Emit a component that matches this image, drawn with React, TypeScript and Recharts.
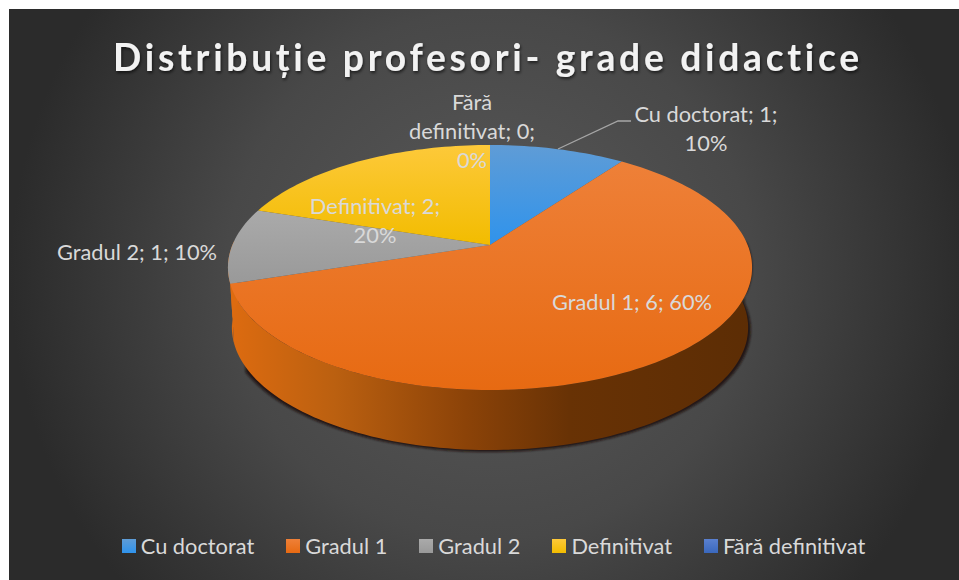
import React from "react";
import { PieChart, Pie, Legend } from "recharts";

const categories = ["Cu doctorat", "Gradul 1", "Gradul 2", "Definitivat", "Fără definitivat"];
const values = [1, 6, 1, 2, 0];
const topGradients = ["topBlue", "topOrange", "topGray", "topYellow", "topNavy"];
const sideGradients = ["sideBlue", "sideOrange", "sideGray", "sideYellow", "sideNavy"];
const labelLines = [
  ["Cu doctorat; 1;", "10%"],
  ["Gradul 1; 6; 60%"],
  ["Gradul 2; 1; 10%"],
  ["Definitivat; 2;", "20%"],
  ["Fără", "definitivat; 0;", "0%"],
];
const chartTitle = "Distribuție profesori- grade didactice";

const rows = categories.map((name, i) => ({ name, value: values[i], top: `url(#${topGradients[i]})`, side: `url(#${sideGradients[i]})` }));
const topRows = rows.map((r) => ({ ...r, fill: r.top }));
const sideRows = rows.map((r) => ({ ...r, fill: r.side }));

const FONT = "Lato, 'Open Sans', sans-serif";
const CX = 490;
const CY = 245;
const R = 100;
// Perspective of the tilted disc
const PERSP = 0.1837;
const SX = 2.576;
const SY = 1.184;
const DEPTH = 60;
const BOTTOM_SCALE = 0.985;

const project = (theta: number) => {
  const t = (theta * Math.PI) / 180;
  const u = Math.sin(t);
  const v = Math.cos(t);
  const d = 1 + PERSP * v;
  return { x: CX + (R * SX * u) / d, y: CY - (R * SY * v) / d };
};

const arcPts = (a: number, b: number) => {
  const n = Math.max(2, Math.ceil(Math.abs(b - a) / 1.5));
  const pts = [];
  for (let i = 0; i <= n; i++) pts.push(project(a + ((b - a) * i) / n));
  return pts;
};

const toPath = (pts: { x: number; y: number }[]) =>
  pts.map((p, i) => `${i ? "L" : "M"}${p.x.toFixed(2)} ${p.y.toFixed(2)}`).join(" ");

const TopSlice = (props: any) => {
  const { startAngle, endAngle, fill } = props;
  const a = 90 - startAngle;
  const b = 90 - endAngle;
  if (Math.abs(b - a) < 0.01) return <g />;
  const d = `M${CX} ${CY} ` + toPath(arcPts(a, b)).replace(/^M/, "L") + " Z";
  return <path d={d} fill={fill} stroke="none" />;
};

const SideSlice = (props: any) => {
  const { startAngle, endAngle, fill } = props;
  const a = Math.max(90 - startAngle, 88);
  const b = Math.min(90 - endAngle, 272);
  if (b <= a) return <g />;
  const upper = arcPts(a, b);
  const lower = upper
    .map((p) => ({ x: CX + (p.x - CX) * BOTTOM_SCALE, y: p.y + DEPTH }))
    .reverse();
  const shadowUpper = arcPts(a, Math.min(b, 240));
  const shadowLower = shadowUpper
    .map((p) => ({ x: CX + (p.x - CX) * 0.995, y: p.y + DEPTH + 2 }))
    .reverse();
  return (
    <g>
      {b > a && a < 240 && (
        <path d={toPath([...shadowUpper, ...shadowLower]) + " Z"} fill="#1d0f0a" opacity={0.85} filter="url(#soft)" />
      )}
      <path d={toPath([...upper, ...lower]) + " Z"} fill={fill} stroke="none" />
    </g>
  );
};

const LABEL_AT: Record<string, [number, number]> = {
  "Cu doctorat": [706, 122],
  "Gradul 1": [632, 310],
  "Gradul 2": [137, 260],
  Definitivat: [375, 214],
  "Fără definitivat": [472, 110],
};

const SliceLabel = (props: any) => {
  const { index, name } = props;
  const at = LABEL_AT[name];
  const lines = labelLines[index];
  return (
    <g>
      {name === "Cu doctorat" && (
        <polyline points="558,149 618,121 631,121" fill="none" stroke="#a6a6a6" strokeWidth={1.3} />
      )}
      <text x={at[0]} y={at[1]} textAnchor="middle" fontFamily={FONT} fontSize={21.8} fill="#d9d9d9">
        {lines.map((l: string, i: number) => (
          <tspan key={l} x={at[0]} dy={i ? 29 : 0}>
            {l}
          </tspan>
        ))}
      </text>
    </g>
  );
};

const LegendBody = ({ payload }: any) => (
  <div style={{ display: "flex", justifyContent: "center", gap: 32, fontFamily: FONT, fontSize: 21.8, color: "#d9d9d9", lineHeight: "24px", whiteSpace: "nowrap" }}>
    {(payload || [])
      .filter((e: any) => String(e.color).startsWith("url(#top"))
      .map((e: any) => (
        <div key={e.value} style={{ display: "flex", alignItems: "center", gap: 5 }}>
          <svg width={14} height={14}>
            <rect width={14} height={14} fill={e.color} />
          </svg>
          <span>{e.value}</span>
        </div>
      ))}
  </div>
);

const vGrad = (id: string, a: string, b: string) => (
  <linearGradient id={id} x1="0" y1="0" x2="0" y2="1">
    <stop offset="0" stopColor={a} />
    <stop offset="1" stopColor={b} />
  </linearGradient>
);

const hGrad = (id: string, stops: [number, string][]) => (
  <linearGradient id={id} gradientUnits="userSpaceOnUse" x1="230" y1="0" x2="752" y2="0">
    {stops.map(([o, c]) => (
      <stop key={o} offset={o} stopColor={c} />
    ))}
  </linearGradient>
);

export default function App() {
  return (
    <div style={{ position: "absolute", left: 0, top: 0, width: 959, height: 580, background: "#fff" }}>
      <PieChart width={959} height={580} margin={{ top: 0, right: 0, bottom: 0, left: 0 }}>
        <defs>
          <radialGradient id="card" gradientUnits="userSpaceOnUse" cx="490" cy="275" r="480">
            <stop offset="0" stopColor="#5a5a5a" />
            <stop offset="0.55" stopColor="#484848" />
            <stop offset="1" stopColor="#2b2b2b" />
          </radialGradient>
          {vGrad("topBlue", "#5f9cd6", "#2f93ec")}
          {vGrad("topOrange", "#ee8038", "#e76a12")}
          {vGrad("topGray", "#aaaaaa", "#999999")}
          {vGrad("topYellow", "#fdc93a", "#f2bc00")}
          {vGrad("topNavy", "#5a80cf", "#3a68bd")}
          {hGrad("sideOrange", [
            [0, "#dd6b10"],
            [0.2, "#bb6010"],
            [0.45, "#8c4308"],
            [0.65, "#683205"],
            [1, "#5c2d05"],
          ])}
          {hGrad("sideGray", [[0, "#dd6b10"], [1, "#dd6b10"]])}
          {hGrad("sideBlue", [[0, "#3b6f9f"], [1, "#3b6f9f"]])}
          {hGrad("sideYellow", [[0, "#a88000"], [1, "#a88000"]])}
          {hGrad("sideNavy", [[0, "#2c4a85"], [1, "#2c4a85"]])}
          <filter id="soft" x="-5%" y="-5%" width="110%" height="110%">
            <feGaussianBlur stdDeviation="1.2" />
          </filter>
          <filter id="titleShadow" x="-5%" y="-20%" width="110%" height="150%">
            <feDropShadow dx="1" dy="2" stdDeviation="1.5" floodColor="#000" floodOpacity="0.6" />
          </filter>
        </defs>
        <rect x={9} y={9} width={950} height={571} fill="url(#card)" />
        <text
          x={488}
          y={70.5}
          textAnchor="middle"
          fontFamily={FONT}
          fontWeight={700}
          fontSize={37.2}
          letterSpacing={3.72}
          fill="#f2f2f2"
          filter="url(#titleShadow)"
        >
          {chartTitle}
        </text>
        <Pie
          data={sideRows}
          dataKey="value"
          nameKey="name"
          cx={CX}
          cy={CY}
          outerRadius={R}
          startAngle={90}
          endAngle={-270}
          stroke="none"
          legendType="none"
          shape={SideSlice}
          isAnimationActive={false}
        />
        <Pie
          data={topRows}
          dataKey="value"
          nameKey="name"
          cx={CX}
          cy={CY}
          outerRadius={R}
          startAngle={90}
          endAngle={-270}
          stroke="none"
          shape={TopSlice}
          label={SliceLabel}
          labelLine={false}
          isAnimationActive={false}
        />
        <Legend
          content={LegendBody}
          itemSorter={null}
          wrapperStyle={{ position: "absolute", left: 0, width: 987, top: 534, bottom: "auto" }}
        />
      </PieChart>
    </div>
  );
}
